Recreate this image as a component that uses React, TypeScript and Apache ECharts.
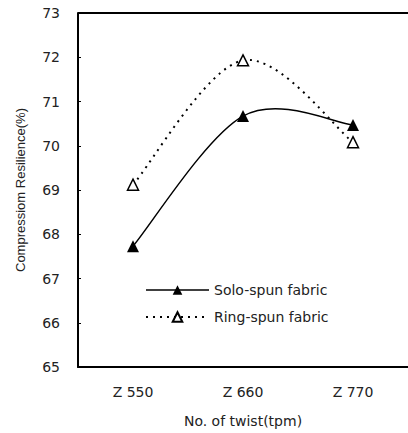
import React, { useEffect, useRef } from "react";
import * as echarts from "echarts";

const categories = ["Z 550", "Z 660", "Z 770"];
const soloSpun = [67.73, 70.67, 70.47];
const ringSpun = [69.12, 71.93, 70.08];
const yTicks = { min: 65, max: 73, interval: 1 };

function splineRenderer(values: number[], style: any) {
  return (params: any, api: any) => {
    const pts = values.map((v, i) => api.coord([i, v]));
    const n = pts.length;
    const tan = pts.map((p: number[], i: number) => {
      const a = pts[Math.max(0, i - 1)];
      const b = pts[Math.min(n - 1, i + 1)];
      return [(b[0] - a[0]) / 2, (b[1] - a[1]) / 2];
    });
    const children: any[] = [];
    for (let i = 0; i < n - 1; i++) {
      const p0 = pts[i];
      const p1 = pts[i + 1];
      children.push({
        type: "bezierCurve",
        shape: {
          x1: p0[0],
          y1: p0[1],
          cpx1: p0[0] + tan[i][0] / 3,
          cpy1: p0[1] + tan[i][1] / 3,
          cpx2: p1[0] - tan[i + 1][0] / 3,
          cpy2: p1[1] - tan[i + 1][1] / 3,
          x2: p1[0],
          y2: p1[1],
        },
        style: { fill: "none", ...style },
      });
    }
    return { type: "group", children };
  };
}

export default function App() {
  const ref = useRef<HTMLDivElement>(null);
  useEffect(() => {
    if (!ref.current) return;
    const chart = echarts.init(ref.current, undefined, { renderer: "svg" });
    const font = "DejaVu Sans, Verdana, sans-serif";
    const txt = "#222";
    chart.setOption({
      animation: false,
      backgroundColor: "#fff",
      grid: { left: 78, top: 13, width: 336, height: 358, containLabel: false },
      legend: {
        orient: "vertical",
        left: 140,
        top: 278,
        itemWidth: 63,
        itemHeight: 12,
        itemGap: 13,
        textStyle: { fontFamily: font, fontSize: 14, color: txt },
        data: [
          {
            name: "Solo-spun fabric",
            lineStyle: { opacity: 1, color: "#000", width: 1.5, type: "solid" },
          },
          {
            name: "Ring-spun fabric",
            lineStyle: { opacity: 1, color: "#000", width: 2, type: [2, 5] },
          },
        ],
      },
      xAxis: {
        type: "category",
        data: categories,
        boundaryGap: true,
        axisLine: { lineStyle: { color: "#000", width: 2 } },
        axisTick: { show: false },
        axisLabel: { fontFamily: font, fontSize: 14, color: txt, margin: 18 },
        name: "No. of twist(tpm)",
        nameLocation: "middle",
        nameGap: 47,
        nameTextStyle: { fontFamily: font, fontSize: 14, color: txt },
      },
      yAxis: {
        type: "value",
        min: yTicks.min,
        max: yTicks.max,
        interval: yTicks.interval,
        axisLine: { show: true, lineStyle: { color: "#000", width: 2 } },
        axisTick: { show: true, inside: true, length: 3, lineStyle: { color: "#000" } },
        splitLine: { show: false },
        axisLabel: { fontFamily: font, fontSize: 14, color: txt, margin: 18 },
        name: "Compressiom Resilience(%)",
        nameLocation: "middle",
        nameGap: 51,
        nameTextStyle: { fontFamily: "Liberation Sans, Arial, sans-serif", fontSize: 13, color: txt },
      },
      graphic: [
        {
          type: "line",
          shape: { x1: 78, y1: 13, x2: 408, y2: 13 },
          style: { stroke: "#000", lineWidth: 2 },
        },
      ],
      series: [
        {
          type: "custom",
          name: "solo-curve",
          data: [0],
          silent: true,
          z: 1,
          renderItem: splineRenderer(soloSpun, { stroke: "#000", lineWidth: 1.5 }),
        },
        {
          type: "custom",
          name: "ring-curve",
          data: [0],
          silent: true,
          z: 1,
          renderItem: splineRenderer(ringSpun, {
            stroke: "#000",
            lineWidth: 2,
            lineDash: [2, 5],
          }),
        },
        {
          name: "Solo-spun fabric",
          type: "line",
          data: soloSpun,
          z: 3,
          symbol: "triangle",
          symbolSize: 12,
          itemStyle: { color: "#000" },
          lineStyle: { opacity: 0, color: "#000", width: 1.5, type: "solid" },
        },
        {
          name: "Ring-spun fabric",
          type: "line",
          data: ringSpun,
          z: 3,
          symbol: "triangle",
          symbolSize: 11,
          itemStyle: { color: "#fff", borderColor: "#000", borderWidth: 1.5 },
          lineStyle: { opacity: 0, color: "#000", width: 2, type: [2, 5] },
        },
      ],
    });
    return () => chart.dispose();
  }, []);
  return (
    <div
      ref={ref}
      style={{ position: "absolute", left: 0, top: 0, width: 408, height: 433 }}
    />
  );
}
